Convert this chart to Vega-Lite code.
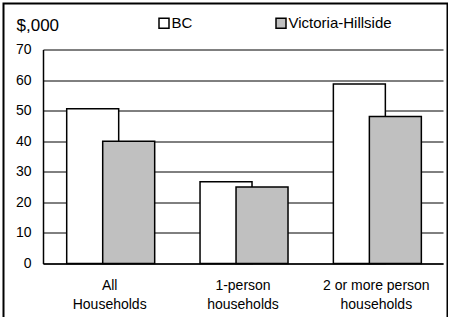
{
  "$schema": "https://vega.github.io/schema/vega-lite/v6.json",
  "width": 444,
  "height": 320,
  "padding": {"left": 3.5, "top": 3.5, "right": 0, "bottom": 0},
  "autosize": {"type": "pad"},
  "background": "white",
  "config": {
    "view": {"stroke": "#000000", "strokeWidth": 2},
    "font": "Liberation Sans"
  },
  "data": {
    "values": [
      {"group": "All Households", "area": "BC", "income": 50.6},
      {"group": "All Households", "area": "Victoria-Hillside", "income": 40.0},
      {"group": "1-person households", "area": "BC", "income": 26.7},
      {"group": "1-person households", "area": "Victoria-Hillside", "income": 25.0},
      {"group": "2 or more person households", "area": "BC", "income": 58.7},
      {"group": "2 or more person households", "area": "Victoria-Hillside", "income": 48.1}
    ]
  },
  "mark": {"type": "bar", "stroke": "#000000", "strokeWidth": 1.5, "width": {"band": 1.444}},
  "encoding": {
    "x": {
      "field": "group",
      "type": "nominal",
      "sort": ["All Households", "1-person households", "2 or more person households"],
      "scale": {"range": [39.5, 439.5], "paddingInner": 0, "paddingOuter": 0},
      "axis": {
        "title": null,
        "offset": -60,
        "labelAngle": 0,
        "ticks": false,
        "domainColor": "#000000",
        "domainWidth": 1.5,
        "labelFontSize": 14,
        "labelColor": "#000000",
        "labelPadding": 15,
        "labelLineHeight": 19,
        "labelBaseline": "top",
        "labelExpr": "datum.value == 'All Households' ? ['All', 'Households'] : datum.value == '1-person households' ? ['1-person', 'households'] : ['2 or more person', 'households']"
      }
    },
    "xOffset": {
      "field": "area",
      "type": "nominal",
      "scale": {"range": [53.3, 125.3], "paddingInner": 0, "paddingOuter": 0}
    },
    "y": {
      "field": "income",
      "type": "quantitative",
      "scale": {"domain": [0, 70], "range": [260, 46], "nice": false},
      "axis": {
        "values": [0, 10, 20, 30, 40, 50, 60, 70],
        "offset": -39.5,
        "ticks": false,
        "domainColor": "#000000",
        "domainWidth": 1.5,
        "grid": true,
        "gridColor": "#000000",
        "gridWidth": 1,
        "labelFontSize": 14,
        "labelColor": "#000000",
        "labelPadding": 12,
        "title": "$,000",
        "titleAngle": 0,
        "titleFontSize": 17,
        "titleFontWeight": "normal",
        "titleColor": "#000000",
        "titleAlign": "left",
        "titleBaseline": "alphabetic",
        "titleX": -27,
        "titleY": 26.5
      }
    },
    "fill": {
      "field": "area",
      "type": "nominal",
      "scale": {"domain": ["BC", "Victoria-Hillside"], "range": ["#ffffff", "#c0c0c0"]},
      "legend": {
        "title": null,
        "orient": "none",
        "direction": "horizontal",
        "legendX": 153,
        "legendY": 12,
        "symbolType": "square",
        "symbolSize": 100,
        "symbolStrokeColor": "#000000",
        "symbolStrokeWidth": 1.5,
        "labelFontSize": 15,
        "labelColor": "#000000",
        "labelOffset": 0,
        "columnPadding": 80,
        "padding": 0
      }
    }
  }
}
